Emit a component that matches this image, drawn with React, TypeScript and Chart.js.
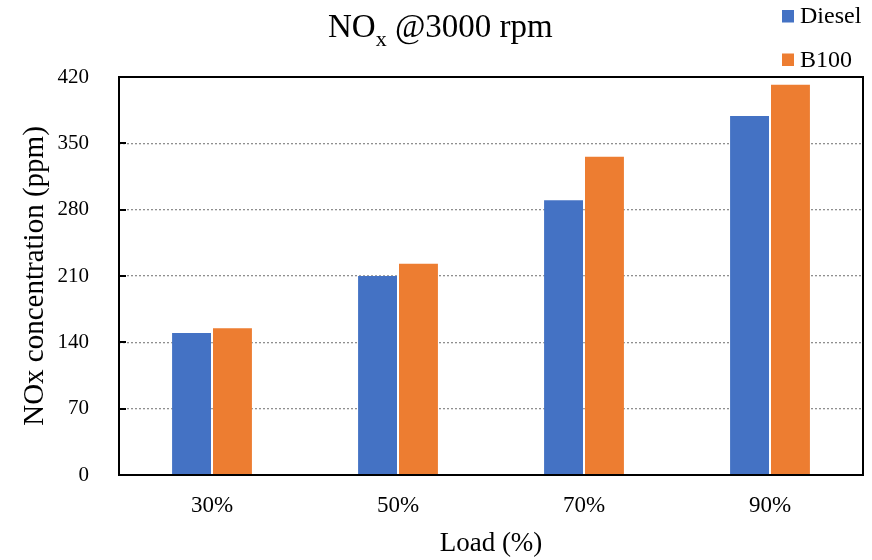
import React, { useEffect, useRef } from "react";
import { Chart, registerables } from "chart.js";

Chart.register(...registerables);

const categories = ["30%", "50%", "70%", "90%"];
const dieselValues = [151, 211, 291, 380];
const b100Values = [156, 224, 337, 413];
const seriesNames = ["Diesel", "B100"];
const seriesColors = ["#4472C4", "#ED7D31"];
const yTickValues = [0, 70, 140, 210, 280, 350, 420];
const titleMain = "NO";
const titleSub = "x";
const titleRest = " @3000 rpm";
const xTitle = "Load (%)";
const yTitle = "NOx concentration (ppm)";

const FONT = "'Liberation Serif', 'Times New Roman', serif";

const decorPlugin = {
  id: "decor",
  afterDraw(chart: any) {
    const ctx = chart.ctx;
    const a = chart.chartArea;
    ctx.save();
    // frame
    ctx.strokeStyle = "#000";
    ctx.lineWidth = 2;
    ctx.strokeRect(a.left, a.top, a.right - a.left, a.bottom - a.top);
    // inside ticks on y axis
    const ys = chart.scales.y;
    ys.ticks.forEach((t: any) => {
      const py = Math.round(ys.getPixelForValue(t.value));
      ctx.beginPath();
      ctx.moveTo(a.left, py);
      ctx.lineTo(a.left + 7, py);
      ctx.stroke();
    });
    // title with subscript
    ctx.fillStyle = "#000";
    ctx.textBaseline = "alphabetic";
    ctx.textAlign = "left";
    let x = 328;
    ctx.font = `33px ${FONT}`;
    ctx.fillText(titleMain, x, 37);
    x += ctx.measureText(titleMain).width;
    ctx.font = `22px ${FONT}`;
    ctx.fillText(titleSub, x, 46);
    x += ctx.measureText(titleSub).width;
    ctx.font = `33px ${FONT}`;
    ctx.fillText(titleRest, x, 37);
    // legend
    ctx.font = `24px ${FONT}`;
    chart.data.datasets.forEach((ds: any, i: number) => {
      const top = 10 + i * 43.5;
      ctx.fillStyle = ds.backgroundColor;
      ctx.fillRect(782, top, 12, 12.5);
      ctx.fillStyle = "#000";
      ctx.fillText(ds.label, 800, top + 13.3);
    });
    ctx.restore();
  },
};

export default function App() {
  const ref = useRef<HTMLCanvasElement>(null);
  useEffect(() => {
    if (!ref.current) return;
    const chart = new Chart(ref.current, {
      type: "bar",
      data: {
        labels: categories,
        datasets: [
          {
            label: seriesNames[0],
            data: dieselValues,
            backgroundColor: seriesColors[0],
            borderColor: "rgba(255,255,255,0.18)",
            borderWidth: 1,
            barPercentage: 1,
            categoryPercentage: 0.44,
          },
          {
            label: seriesNames[1],
            data: b100Values,
            backgroundColor: seriesColors[1],
            borderColor: "rgba(255,255,255,0.18)",
            borderWidth: 1,
            barPercentage: 1,
            categoryPercentage: 0.44,
          },
        ],
      },
      options: {
        responsive: false,
        animation: false,
        layout: { padding: { top: 77, right: 9, left: 0, bottom: 0 } },
        plugins: {
          legend: { display: false },
          title: { display: false },
          tooltip: { enabled: false },
        },
        scales: {
          x: {
            grid: { display: false, drawTicks: false },
            border: { display: false },
            ticks: {
              color: "#000",
              font: { family: FONT, size: 23 },
              padding: 17,
            },
            title: {
              display: true,
              text: xTitle,
              color: "#000",
              font: { family: FONT, size: 27 },
              padding: { top: 0, bottom: 0 },
            },
            afterFit: (s: any) => {
              s.height = 85;
            },
          },
          y: {
            min: 0,
            max: 420,
            afterBuildTicks: (s: any) => {
              s.ticks = yTickValues.map((v) => ({ value: v }));
            },
            grid: {
              drawTicks: false,
              color: (c: any) =>
                c.tick && (c.tick.value === 0 || c.tick.value === 420)
                  ? "rgba(0,0,0,0)"
                  : "#8f8f8f",
              lineWidth: 1.3,
            },
            border: { display: false, dash: [2, 2] },
            ticks: {
              color: "#000",
              font: { family: FONT, size: 21 },
              padding: 30,
            },
            title: {
              display: true,
              text: yTitle,
              color: "#000",
              font: { family: FONT, size: 29 },
              padding: { top: 18, bottom: 0 },
            },
            afterFit: (s: any) => {
              s.width = 119;
            },
          },
        },
      },
      plugins: [decorPlugin],
    });
    return () => chart.destroy();
  }, []);
  return (
    <div style={{ position: "absolute", left: 0, top: 0, width: 872, height: 560, background: "#fff" }}>
      <canvas ref={ref} width={872} height={560} />
    </div>
  );
}
